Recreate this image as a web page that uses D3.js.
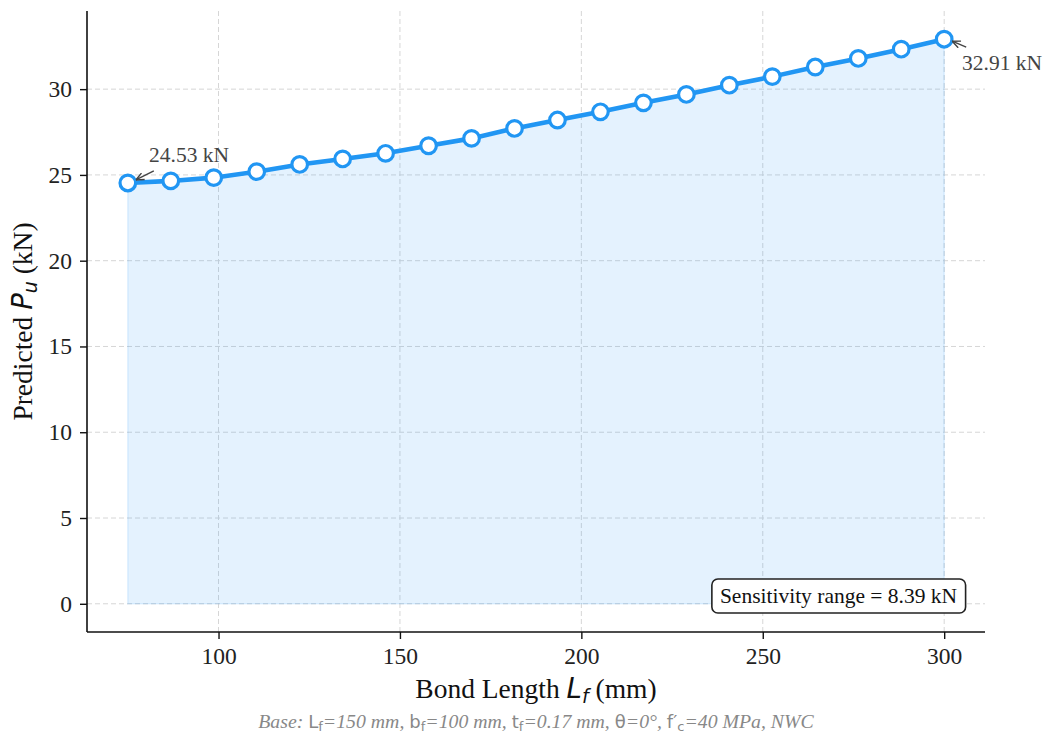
<!DOCTYPE html>
<html>
<head>
<meta charset="utf-8">
<script src="https://cdn.jsdelivr.net/npm/d3@7"></script>
<style>
  body { margin: 0; background: #fff; }
  svg { display: block; }
  .tick text { font-family: "Liberation Serif", "Times New Roman", serif; font-size: 23.5px; fill: #222; }
</style>
</head>
<body>
<div id="chart"></div>
<script>
// bond length (mm) and predicted capacity (kN)
const bondLength = [75, 86.84, 98.68, 110.53, 122.37, 134.21, 146.05, 157.89, 169.74, 181.58,
                    193.42, 205.26, 217.11, 228.95, 240.79, 252.63, 264.47, 276.32, 288.16, 300];
const capacity = [24.53, 24.65, 24.84, 25.19, 25.61, 25.93, 26.26, 26.70, 27.13, 27.71,
                  28.20, 28.68, 29.20, 29.69, 30.23, 30.73, 31.29, 31.79, 32.33, 32.91];
const xTicks = [100, 150, 200, 250, 300];
const yTicks = [0, 5, 10, 15, 20, 25, 30];
const rangeLabel = "Sensitivity range = 8.39 kN";

const width = 1044, height = 736;
const margin = {left: 87, right: 59, top: 11, bottom: 104};
const blue = "#2196F3";

const svg = d3.select("#chart").append("svg")
    .attr("width", width)
    .attr("height", height);

const x = d3.scaleLinear()
    .domain([63.75, 311.25])
    .range([margin.left, width - margin.right]);

const y = d3.scaleLinear()
    .domain([-1.6455, 34.5555])
    .range([height - margin.bottom, margin.top]);

// grid
const grid = svg.append("g")
    .attr("stroke", "#d6d6d6")
    .attr("stroke-width", 1)
    .attr("stroke-dasharray", "5,3");
grid.selectAll(".gx").data(xTicks).enter().append("line")
    .attr("x1", d => x(d)).attr("x2", d => x(d))
    .attr("y1", margin.top).attr("y2", height - margin.bottom);
grid.selectAll(".gy").data(yTicks).enter().append("line")
    .attr("y1", d => y(d)).attr("y2", d => y(d))
    .attr("x1", margin.left).attr("x2", width - margin.right);

// filled area under the curve
const area = d3.area()
    .x((d, i) => x(bondLength[i]))
    .y0(y(0))
    .y1(d => y(d));
svg.append("path")
    .datum(capacity)
    .attr("d", area)
    .attr("fill", blue)
    .attr("fill-opacity", 0.12)
    .attr("stroke", blue)
    .attr("stroke-opacity", 0.12)
    .attr("stroke-width", 1.5);

// axes
const xAxis = svg.append("g")
    .attr("transform", `translate(0,${height - margin.bottom})`)
    .call(d3.axisBottom(x).tickValues(xTicks).tickSize(7).tickPadding(8));
const yAxis = svg.append("g")
    .attr("transform", `translate(${margin.left},0)`)
    .call(d3.axisLeft(y).tickValues(yTicks).tickSize(7).tickPadding(8));
[xAxis, yAxis].forEach(a => {
    a.select(".domain").attr("stroke", "#111").attr("stroke-width", 1.6);
    a.selectAll(".tick line").attr("stroke", "#111").attr("stroke-width", 1.4);
});
xAxis.select(".domain").attr("d", `M${margin.left},0H${width - margin.right}`);
yAxis.select(".domain").attr("d", `M0,${margin.top}V${height - margin.bottom}`);

// line + markers
const line = d3.line()
    .x((d, i) => x(bondLength[i]))
    .y(d => y(d));
svg.append("path")
    .datum(capacity)
    .attr("d", line)
    .attr("fill", "none")
    .attr("stroke", blue)
    .attr("stroke-width", 4.6);

svg.selectAll(".pt").data(capacity).enter().append("circle")
    .attr("cx", (d, i) => x(bondLength[i]))
    .attr("cy", d => y(d))
    .attr("r", 7.8)
    .attr("fill", "#fff")
    .attr("stroke", blue)
    .attr("stroke-width", 3.2);

// annotations
svg.append("defs").append("marker")
    .attr("id", "arrow")
    .attr("viewBox", "0 0 10 10")
    .attr("refX", 10).attr("refY", 5)
    .attr("markerWidth", 9).attr("markerHeight", 9)
    .attr("markerUnits", "userSpaceOnUse")
    .attr("orient", "auto")
    .append("path")
    .attr("d", "M1,1L10,5L1,9")
    .attr("fill", "none")
    .attr("stroke", "#444")
    .attr("stroke-width", 1.6);

const first = 0, last = capacity.length - 1;
const notes = [
    {i: first, tx: 149, ty: 162, ax: 26, ay: -12, ex: 8, ey: -3},
    {i: last, tx: 962, ty: 70, ax: 22, ay: 8, ex: 8, ey: 2}
];
notes.forEach(n => {
    const px = x(bondLength[n.i]), py = y(capacity[n.i]);
    svg.append("line")
        .attr("x1", px + n.ax).attr("y1", py + n.ay)
        .attr("x2", px + n.ex).attr("y2", py + n.ey)
        .attr("stroke", "#444")
        .attr("stroke-width", 1.4)
        .attr("marker-end", "url(#arrow)");
    svg.append("text")
        .attr("x", n.tx).attr("y", n.ty)
        .attr("font-family", "Liberation Serif, serif")
        .attr("font-size", 21.5)
        .attr("fill", "#444")
        .text(capacity[n.i].toFixed(2) + " kN");
});

// sensitivity box
const box = svg.append("g").attr("transform", "translate(838.5,596)");
const boxText = box.append("text")
    .attr("text-anchor", "middle")
    .attr("dy", "0.33em")
    .attr("font-family", "Liberation Serif, serif")
    .attr("font-size", 21.5)
    .attr("fill", "#111")
    .text(rangeLabel);
const bb = boxText.node().getBBox();
box.insert("rect", "text")
    .attr("x", bb.x - 8).attr("y", -17)
    .attr("width", bb.width + 16).attr("height", 34)
    .attr("rx", 6)
    .attr("fill", "#fff")
    .attr("stroke", "#222")
    .attr("stroke-width", 1.6);

// axis labels
const xl = svg.append("text")
    .attr("x", (margin.left + width - margin.right) / 2)
    .attr("y", 698)
    .attr("text-anchor", "middle")
    .attr("font-family", "Liberation Serif, serif")
    .attr("font-size", 27.5)
    .attr("fill", "#111");
xl.append("tspan").text("Bond Length ");
xl.append("tspan").attr("font-family", "DejaVu Sans").attr("font-style", "oblique").text("L");
xl.append("tspan").attr("font-family", "DejaVu Sans").attr("font-style", "oblique")
    .attr("font-size", 19).attr("dy", 5).text("f");
xl.append("tspan").attr("dy", -5).text(" (mm)");

const yl = svg.append("text")
    .attr("transform", `translate(32,${(margin.top + height - margin.bottom) / 2}) rotate(-90)`)
    .attr("text-anchor", "middle")
    .attr("font-family", "Liberation Serif, serif")
    .attr("font-size", 27.5)
    .attr("fill", "#111");
yl.append("tspan").text("Predicted ");
yl.append("tspan").attr("font-family", "DejaVu Sans").attr("font-style", "oblique").text("P");
yl.append("tspan").attr("font-family", "DejaVu Sans").attr("font-style", "oblique")
    .attr("font-size", 19).attr("dy", 5).text("u");
yl.append("tspan").attr("dy", -5).text(" (kN)");

// footnote
const footParts = [
    ["Base: ", null], ["L", "f"], ["=150 mm, ", null], ["b", "f"], ["=100 mm, ", null],
    ["t", "f"], ["=0.17 mm, ", null], ["θ", ""], ["=0°, ", null], ["f′", "c"], ["=40 MPa, NWC", null]
];
const fn = svg.append("text")
    .attr("x", 536).attr("y", 728)
    .attr("text-anchor", "middle")
    .attr("font-family", "Liberation Serif, serif")
    .attr("font-style", "italic")
    .attr("font-size", 19.8)
    .attr("fill", "#888");
let shift = 0;
footParts.forEach(([t, sub]) => {
    if (sub === null) {
        fn.append("tspan").attr("dy", -shift).text(t);
        shift = 0;
    } else {
        fn.append("tspan").attr("dy", -shift)
            .attr("font-family", "DejaVu Sans").attr("font-style", "normal").attr("font-size", 18).text(t);
        shift = 0;
        if (sub) {
            fn.append("tspan").attr("dy", 3)
                .attr("font-family", "DejaVu Sans").attr("font-style", "normal").attr("font-size", 13).text(sub);
            shift = 3;
        }
    }
});
</script>
</body>
</html>
